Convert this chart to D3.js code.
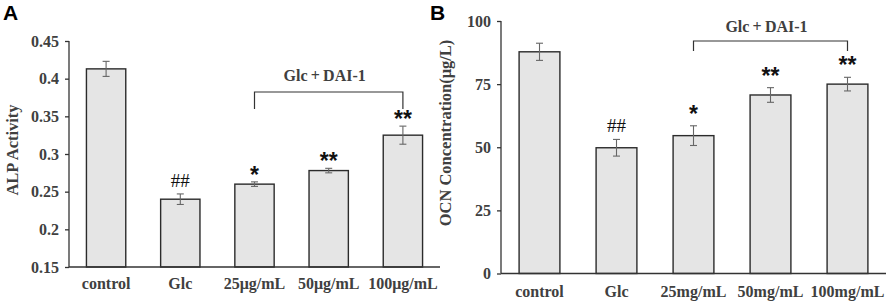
<!DOCTYPE html>
<html>
<head>
    <meta charset="utf-8">
    <script src="https://d3js.org/d3.v7.min.js"></script>
    <style>
        body { margin: 0; background: #fff; }
        svg text { font-family: "Liberation Serif", "Times New Roman", serif; font-weight: bold; fill: #404040; }
        .panel-label { font-family: "Liberation Sans", Arial, sans-serif; fill: #000; }
    </style>
</head>
<body>
    <div id="chart"><svg width="886" height="304"></svg></div>
    <script>
        // panel A
        var catsA = ["control", "Glc", "25μg/mL", "50μg/mL", "100μg/mL"]
        var alp = [0.413, 0.24, 0.26, 0.278, 0.325]
        var alpErr = [0.01, 0.007, 0.003, 0.003, 0.012]
        var marksA = ["", "##", "*", "**", "**"]
        var ticksA = [0.15, 0.2, 0.25, 0.3, 0.35, 0.4, 0.45]

        // panel B
        var catsB = ["control", "Glc", "25mg/mL", "50mg/mL", "100mg/mL"]
        var ocn = [87.8, 49.8, 54.6, 70.7, 75]
        var ocnErr = [3.4, 3.3, 3.9, 2.9, 2.7]
        var marksB = ["", "##", "*", "**", "**"]
        var ticksB = [0, 25, 50, 75, 100]

        var svg = d3.select("#chart svg")

        function drawPanel(o) {
            var g = svg.append("g")
            var x = d3.scaleBand().domain(o.cats).range([o.x0, o.x1]).paddingInner(0.47).paddingOuter(0.235)
            var y = d3.scaleLinear().domain(o.domain).range([o.y0, o.y1])

            // bars
            g.selectAll("rect.bar")
                .data(o.vals)
                .enter()
                .append("rect")
                .attr("x", function(d, i) { return x(o.cats[i]) })
                .attr("width", x.bandwidth())
                .attr("y", function(d) { return y(d) })
                .attr("height", function(d) { return y(o.domain[0]) - y(d) })
                .style("fill", "#e5e5e5")
                .style("stroke", "#2b2b2b")
                .style("stroke-width", 1.4)

            // error bars
            var eb = g.selectAll("g.err").data(o.vals).enter().append("g")
                .style("stroke", "#666").style("stroke-width", 1.1)
            eb.append("line")
                .attr("x1", function(d, i) { return x(o.cats[i]) + x.bandwidth() / 2 })
                .attr("x2", function(d, i) { return x(o.cats[i]) + x.bandwidth() / 2 })
                .attr("y1", function(d, i) { return y(d + o.errs[i]) })
                .attr("y2", function(d, i) { return y(d - o.errs[i]) })
            ;[1, -1].forEach(function(s) {
                eb.append("line")
                    .attr("x1", function(d, i) { return x(o.cats[i]) + x.bandwidth() / 2 - 3.5 })
                    .attr("x2", function(d, i) { return x(o.cats[i]) + x.bandwidth() / 2 + 3.5 })
                    .attr("y1", function(d, i) { return y(d + s * o.errs[i]) })
                    .attr("y2", function(d, i) { return y(d + s * o.errs[i]) })
            })

            // significance marks: stars in sans, hashes in serif
            g.selectAll("text.mark")
                .data(o.marks)
                .enter()
                .append("text")
                .attr("x", function(d, i) { return x(o.cats[i]) + x.bandwidth() / 2 })
                .attr("y", function(d, i) {
                    return y(o.vals[i] + o.errs[i]) + (d.indexOf("*") >= 0 ? o.starOff : -7)
                })
                .attr("text-anchor", "middle")
                .style("font-family", function(d) { return d.indexOf("*") >= 0 ? "'Liberation Sans', Arial, sans-serif" : "'Liberation Serif', serif" })
                .style("font-size", function(d) { return d.indexOf("*") >= 0 ? "23px" : "19px" })
                .style("font-weight", function(d) { return d.indexOf("*") >= 0 ? "bold" : "normal" })
                .style("fill", "#111")
                .text(function(d) { return d })

            // axes
            var yAxis = g.append("g").attr("transform", "translate(" + o.x0 + ",0)")
                .call(d3.axisLeft(y).tickValues(o.ticks).tickSize(4).tickPadding(6).tickFormat(o.fmt))
            var xAxis = g.append("g").attr("transform", "translate(0," + o.y0 + ")")
                .call(d3.axisBottom(x).tickSize(0).tickPadding(o.xPad))
            ;[yAxis, xAxis].forEach(function(a) {
                a.select(".domain").style("stroke", "#333").style("stroke-width", 1.3)
                a.selectAll(".tick line").style("stroke", "#333").style("stroke-width", 1.3)
                a.selectAll("text").style("font-family", "'Liberation Serif', serif")
                    .style("font-size", "16px").style("font-weight", "bold").style("fill", "#404040")
            })
            yAxis.select(".domain").attr("d", "M0," + o.y0 + "V" + o.y1)
            xAxis.select(".domain").attr("d", "M" + o.x0 + ",0H" + o.x1)

            // bracket for Glc+DAI-1
            var bx0 = x(o.cats[2]) + x.bandwidth() / 2
            var bx1 = x(o.cats[4]) + x.bandwidth() / 2
            g.append("path")
                .attr("d", "M" + bx0 + "," + o.brY1 + "V" + o.brY0 + "H" + bx1 + "V" + o.brY1)
                .style("fill", "none").style("stroke", "#333").style("stroke-width", 1.2)
            g.append("text")
                .attr("x", (bx0 + bx1) / 2 - 4).attr("y", o.brText)
                .attr("text-anchor", "middle")
                .style("font-size", "16px")
                .text("Glc\u2009+\u2009DAI-1")

            // y title
            g.append("text")
                .attr("transform", "translate(" + o.titleX + "," + o.titleY + ") rotate(-90)")
                .attr("text-anchor", "middle")
                .style("font-size", "16.5px")
                .text(o.title)

            // panel letter
            g.append("text").attr("class", "panel-label")
                .attr("x", o.letterX).attr("y", 20)
                .style("font-size", "21px")
                .text(o.letter)
        }

        drawPanel({
            cats: catsA, vals: alp, errs: alpErr, marks: marksA, ticks: ticksA,
            domain: [0.15, 0.45], x0: 69, x1: 440, y0: 267, y1: 41,
            fmt: function(d) { return d3.format("")(+d.toFixed(2)) },
            xPad: 11, brY0: 92, brY1: 109, brText: 81, starOff: 1,
            title: "ALP Activity", titleX: 18, titleY: 150, letter: "A", letterX: 3
        })
        drawPanel({
            cats: catsB, vals: ocn, errs: ocnErr, marks: marksB, ticks: ticksB,
            domain: [0, 100], x0: 501, x1: 886, y0: 273.5, y1: 21,
            fmt: d3.format("d"),
            xPad: 12, brY0: 41, brY1: 51, brText: 32, starOff: -4,
            title: "OCN Concentration(μg/L)", titleX: 451, titleY: 133, letter: "B", letterX: 430
        })
    </script>
</body>
</html>
